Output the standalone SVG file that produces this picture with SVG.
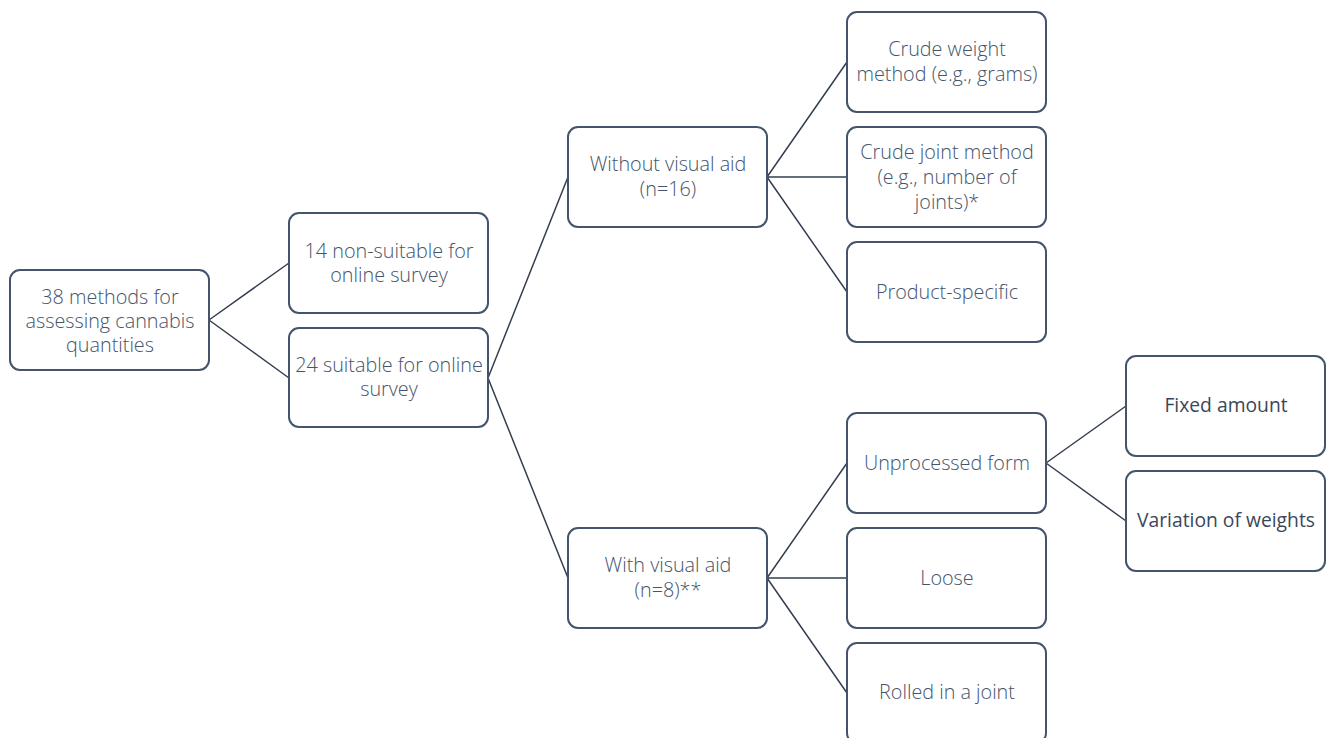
<svg xmlns="http://www.w3.org/2000/svg" width="1327" height="738" viewBox="0 0 1327 738">
<style>
.box{fill:#ffffff;stroke:#44546a;stroke-width:2}
.t{font-family:"Open Sans","Noto Sans","Liberation Sans",sans-serif;font-weight:300;font-size:19.8px;fill:#44546a;text-anchor:middle}
.t2{font-family:"Open Sans","Noto Sans","Liberation Sans",sans-serif;font-weight:400;font-size:19.3px;fill:#3b4759;text-anchor:middle}
.c{fill:none;stroke:#333f50;stroke-width:1.5}
</style>
<rect width="1327" height="738" fill="#ffffff"/>
<g id="connectors">
<path class="c" d="M209,320 L289,263 M209,320 L289,378"/>
<path class="c" d="M488,378 L568,177 M488,378 L568,578"/>
<path class="c" d="M767,177 L847,62 M767,177 L847,177 M767,177 L847,292"/>
<path class="c" d="M767,578 L847,463 M767,578 L847,578 M767,578 L847,693"/>
<path class="c" d="M1046,463 L1126,406 M1046,463 L1126,521"/>
</g>
<g id="root"><rect class="box" x="10" y="270" width="199" height="100" rx="10"/>
<text class="t" x="110" y="304">38 methods for</text><text class="t" x="110" y="328">assessing cannabis</text><text class="t" x="110" y="352">quantities</text></g>
<g id="nonsuitable"><rect class="box" x="289" y="213" width="199" height="100" rx="10"/>
<text class="t" x="389" y="258">14 non-suitable for</text><text class="t" x="389" y="282">online survey</text></g>
<g id="suitable"><rect class="box" x="289" y="328" width="199" height="99" rx="10"/>
<text class="t" x="389" y="372">24 suitable for online</text><text class="t" x="389" y="396">survey</text></g>
<g id="without"><rect class="box" x="568" y="127" width="199" height="100" rx="10"/>
<text class="t" x="668" y="171">Without visual aid</text><text class="t" x="668" y="196">(n=16)</text></g>
<g id="crudeweight"><rect class="box" x="847" y="12" width="199" height="100" rx="10"/>
<text class="t" x="947" y="56">Crude weight</text><text class="t" x="947" y="81">method (e.g., grams)</text></g>
<g id="crudejoint"><rect class="box" x="847" y="127" width="199" height="100" rx="10"/>
<text class="t" x="947" y="159">Crude joint method</text><text class="t" x="947" y="184">(e.g., number of</text><text class="t" x="947" y="209">joints)*</text></g>
<g id="product"><rect class="box" x="847" y="242" width="199" height="100" rx="10"/>
<text class="t" x="947" y="299">Product-specific</text></g>
<g id="with"><rect class="box" x="568" y="528" width="199" height="100" rx="10"/>
<text class="t" x="668" y="572">With visual aid</text><text class="t" x="668" y="597">(n=8)**</text></g>
<g id="unprocessed"><rect class="box" x="847" y="413" width="199" height="100" rx="10"/>
<text class="t" x="947" y="470">Unprocessed form</text></g>
<g id="loose"><rect class="box" x="847" y="528" width="199" height="100" rx="10"/>
<text class="t" x="947" y="585">Loose</text></g>
<g id="rolled"><rect class="box" x="847" y="643" width="199" height="100" rx="10"/>
<text class="t" x="947" y="699">Rolled in a joint</text></g>
<g id="fixed"><rect class="box" x="1126" y="356" width="199" height="100" rx="10"/>
<text class="t2" x="1226" y="412">Fixed amount</text></g>
<g id="variation"><rect class="box" x="1126" y="471" width="199" height="100" rx="10"/>
<text class="t2" x="1226" y="527">Variation of weights</text></g>
</svg>
